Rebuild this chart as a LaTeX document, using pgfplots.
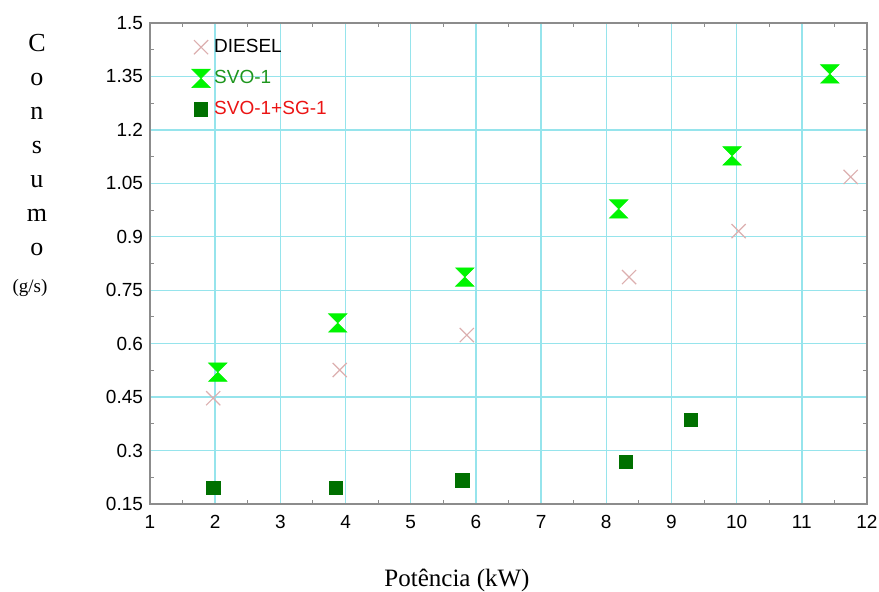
\documentclass[border=0pt]{standalone}
\usepackage{fontspec}
\setmainfont{Liberation Serif}
\setsansfont{Liberation Sans}
\usepackage{pgfplots}
\pgfplotsset{compat=1.18}

\definecolor{gridcyan}{RGB}{150,228,236}
\definecolor{framegray}{RGB}{140,140,140}
\definecolor{dieselpink}{RGB}{220,175,175}
\definecolor{svogreen}{RGB}{0,245,0}
\definecolor{sgdark}{RGB}{0,112,0}
\definecolor{txtgreen}{RGB}{30,150,30}
\definecolor{txtred}{RGB}{235,20,20}

\pgfdeclareplotmark{hourglass}{%
  \pgfpathmoveto{\pgfqpoint{-\pgfplotmarksize}{\pgfplotmarksize}}%
  \pgfpathlineto{\pgfqpoint{\pgfplotmarksize}{\pgfplotmarksize}}%
  \pgfpathlineto{\pgfqpoint{-\pgfplotmarksize}{-\pgfplotmarksize}}%
  \pgfpathlineto{\pgfqpoint{\pgfplotmarksize}{-\pgfplotmarksize}}%
  \pgfpathclose
  \pgfusepathqfillstroke}

\begin{document}
\begin{tikzpicture}
\begin{axis}[
  scale only axis,
  width=358.5pt,height=240.5pt,
  xmin=1,xmax=12,ymin=0.15,ymax=1.5,
  xtick={1,2,...,12},
  ytick={0.15,0.3,0.45,0.6,0.75,0.9,1.05,1.2,1.35,1.5},
  yticklabels={0.15,0.3,0.45,0.6,0.75,0.9,1.05,1.2,1.35,1.5},
  minor tick num=1,
  major tick length=0pt,
  minor tick length=2pt,
  tick align=inside,
  tick style={framegray,line width=0.5pt},
  axis line style={framegray,line width=0.6pt},
  grid=major,
  major grid style={gridcyan,line width=0.7pt},
  tick label style={font=\sffamily\fontsize{9.5}{11}\selectfont},
  /pgf/number format/assume math mode=true,
  xticklabel style={yshift=-2pt},
  clip=false,
  legend cell align=left,
  legend style={draw=none,fill=none,at={(0.055,0.98)},anchor=north west,
    font=\sffamily\fontsize{9.5}{11}\selectfont,row sep=3.5pt,
    inner sep=1pt},
]
\addplot[only marks,mark=x,mark size=5pt,draw=dieselpink,line width=0.6pt]
  coordinates {(1.97,0.447) (3.91,0.526) (5.86,0.624) (8.35,0.787) (10.03,0.916) (11.75,1.068)};
\addlegendentry{DIESEL}
\addplot[only marks,mark=hourglass,mark size=4.6pt,draw=svogreen,fill=svogreen,line width=0.3pt]
  coordinates {(2.04,0.520) (3.88,0.658) (5.83,0.787) (8.19,0.978) (9.93,1.127) (11.43,1.357)};
\addlegendentry{\textcolor{txtgreen}{SVO-1}}
\addplot[only marks,mark=square*,mark size=3.4pt,draw=sgdark,fill=sgdark]
  coordinates {(1.97,0.195) (3.85,0.195) (5.79,0.217) (8.30,0.268) (9.30,0.386)};
\addlegendentry{\textcolor{txtred}{SVO-1+SG-1}}

\node[anchor=north,align=center,font=\fontsize{13}{17}\selectfont]
  at ([xshift=-56.5pt,yshift=-2pt]rel axis cs:0,1) {C\\o\\n\\s\\u\\m\\o};
\node[font=\fontsize{9.5}{11}\selectfont]
  at ([xshift=-60pt]axis cs:1,0.756) {(g/s)};
\node[font=\fontsize{12.5}{14}\selectfont]
  at ([yshift=-38pt]axis cs:5.71,0.15) {Potência (kW)};
\end{axis}
\pgfresetboundingbox
\path (current axis.south west) ++(-75pt,-44pt) coordinate (bbsw);
\path ([xshift=6pt,yshift=11.5pt]current axis.north east) coordinate (bbne);
\path (bbsw) rectangle (bbne);
\end{tikzpicture}
\end{document}
